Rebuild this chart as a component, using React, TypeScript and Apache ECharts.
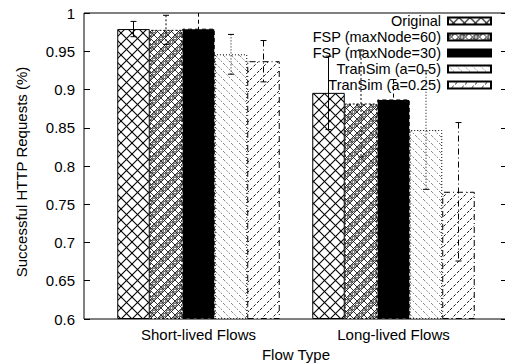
import React, { useEffect, useRef } from "react";
import * as echarts from "echarts";

// Flow categories and the five configurations compared in each
const categories = ["Short-lived Flows", "Long-lived Flows"];
const seriesNames = [
  "Original",
  "FSP (maxNode=60)",
  "FSP (maxNode=30)",
  "TranSim (a=0.5)",
  "TranSim (a=0.25)",
];

// Mean ratio of successful requests, per configuration
const shortValues = [0.979, 0.978, 0.9795, 0.946, 0.937];
const longValues = [0.8956, 0.8817, 0.887, 0.847, 0.7663];

// Half-width of each error bar
const shortErrors = [0.01, 0.019, 0.03, 0.026, 0.027];
const longErrors = [0.048, 0.07, 0.026, 0.0775, 0.0905];

// Value axis range and tick step
const yMin = 0.6;
const yMax = 1;
const yStep = 0.05;

const FONT = "'Liberation Sans', Arial, Helvetica, sans-serif";
const FS = 15;

type Draw = (ctx: CanvasRenderingContext2D, s: number) => void;

function tile(size: number, draw: Draw) {
  const c = document.createElement("canvas");
  c.width = size;
  c.height = size;
  const ctx = c.getContext("2d") as CanvasRenderingContext2D;
  ctx.fillStyle = "#fff";
  ctx.fillRect(0, 0, size, size);
  draw(ctx, size);
  return {
    image: c.toDataURL(),
    imageWidth: size,
    imageHeight: size,
    repeat: "repeat",
  };
}

function crossHatch(ctx: CanvasRenderingContext2D, s: number, period: number) {
  for (let k = -2; k <= s / period + 2; k++) {
    ctx.beginPath();
    ctx.moveTo(k * period - s, -s);
    ctx.lineTo(k * period + s, s);
    ctx.stroke();
    ctx.beginPath();
    ctx.moveTo(k * period + s, -s);
    ctx.lineTo(k * period - s, s);
    ctx.stroke();
  }
}

function buildFills() {
  const original = tile(11, (ctx, s) => {
    ctx.strokeStyle = "#000";
    ctx.lineWidth = 1.1;
    crossHatch(ctx, s, s);
  });
  const fine = tile(14, (ctx, s) => {
    ctx.strokeStyle = "#000";
    ctx.lineWidth = 0.8;
    crossHatch(ctx, s, 7);
    const centers = [
      [3.5, 0],
      [3.5, 14],
      [10.5, 7],
      [0, 3.5],
      [14, 3.5],
      [7, 10.5],
    ];
    for (const [x, y] of centers) {
      ctx.beginPath();
      ctx.arc(x, y, 1.6, 0, Math.PI * 2);
      ctx.fillStyle = "#fff";
      ctx.fill();
      ctx.stroke();
    }
  });
  const back = tile(8, (ctx, s) => {
    ctx.strokeStyle = "#444";
    ctx.lineWidth = 0.9;
    ctx.setLineDash([1, 1.5]);
    for (let k = -1; k <= 1; k++) {
      ctx.beginPath();
      ctx.moveTo(k * s, 0);
      ctx.lineTo(k * s + s, s);
      ctx.stroke();
    }
  });
  const fwd = tile(10, (ctx, s) => {
    ctx.strokeStyle = "#000";
    ctx.lineWidth = 0.9;
    ctx.setLineDash([3, 2]);
    for (let k = -1; k <= 1; k++) {
      ctx.beginPath();
      ctx.moveTo(k * s, s);
      ctx.lineTo(k * s + s, 0);
      ctx.stroke();
    }
  });
  return [original, fine, "#000", back, fwd];
}

// Line style of each configuration (box outline and error bar)
const dashes: (string | number[])[] = [
  "solid",
  [2, 2],
  [4, 3],
  [1, 2],
  [6, 3, 1, 3],
];

export default function App() {
  const ref = useRef<HTMLDivElement>(null);

  useEffect(() => {
    if (!ref.current) return;
    const chart = echarts.init(ref.current, null, { renderer: "svg" });
    const fills = buildFills();

    const bars = seriesNames.map((name, i) => ({
      name,
      type: "bar",
      xAxisIndex: 1,
      yAxisIndex: 2,
      barGap: "0%",
      barCategoryGap: "16.67%",
      clip: true,
      data: [shortValues[i], longValues[i]],
      itemStyle: {
        color: fills[i],
        borderColor: "#000",
        borderWidth: 1,
        borderType: dashes[i],
      },
    }));

    const errorBars = seriesNames.map((name, i) => ({
      name: name + " error",
      type: "custom",
      xAxisIndex: 1,
      yAxisIndex: 2,
      clip: true,
      z: 5,
      data: [
        [0, shortValues[i], shortErrors[i]],
        [1, longValues[i], longErrors[i]],
      ],
      renderItem: (_params: any, api: any) => {
        const cat = api.value(0);
        const v = api.value(1);
        const e = api.value(2);
        const band = api.size([1, 0])[0];
        const cx = api.coord([cat, v])[0] + ((i - 2) * band) / 6;
        const yTop = api.coord([cat, v + e])[1];
        const yBot = api.coord([cat, v - e])[1];
        const cap = 3;
        const dash = dashes[i];
        const stem = {
          stroke: "#000",
          lineWidth: 1,
          lineDash: typeof dash === "string" ? null : dash,
        };
        const capStyle = { stroke: "#000", lineWidth: 1 };
        return {
          type: "group",
          children: [
            {
              type: "line",
              shape: { x1: cx, y1: yTop, x2: cx, y2: yBot },
              style: stem,
            },
            {
              type: "line",
              shape: { x1: cx - cap, y1: yTop, x2: cx + cap, y2: yTop },
              style: capStyle,
            },
            {
              type: "line",
              shape: { x1: cx - cap, y1: yBot, x2: cx + cap, y2: yBot },
              style: capStyle,
            },
          ],
        };
      },
    }));

    const yCommon = {
      type: "value",
      min: yMin,
      max: yMax,
      interval: yStep,
      gridIndex: 0,
      axisLine: { show: false },
      splitLine: { show: false },
    };

    chart.setOption({
      animation: false,
      backgroundColor: "#fff",
      textStyle: { fontFamily: FONT, color: "#000" },
      grid: [
        {
          left: 84,
          right: -1,
          top: 13,
          bottom: 45,
          show: true,
          borderColor: "#000",
          borderWidth: 1,
          backgroundColor: "transparent",
          outerBoundsMode: "none",
          containLabel: false,
        },
        {
          left: 101,
          right: 14,
          top: 13,
          bottom: 45,
          outerBoundsMode: "none",
          containLabel: false,
        },
      ],
      xAxis: [
        { type: "value", gridIndex: 0, show: false, min: 0, max: 1 },
        {
          type: "category",
          gridIndex: 1,
          data: categories,
          axisLine: { show: false },
          axisTick: { show: false },
          axisLabel: { fontSize: FS, color: "#000", margin: 8, fontFamily: FONT },
          name: "Flow Type",
          nameLocation: "middle",
          nameGap: 28,
          nameTextStyle: { fontSize: FS, color: "#000", fontFamily: FONT },
        },
      ],
      yAxis: [
        {
          ...yCommon,
          position: "left",
          axisTick: { show: true, inside: true, length: 6, lineStyle: { color: "#000" } },
          axisLabel: { fontSize: FS, color: "#000", margin: 9, fontFamily: FONT },
          name: "Successful HTTP Requests (%)",
          nameLocation: "middle",
          nameGap: 55,
          nameRotate: 90,
          nameTextStyle: { fontSize: FS, color: "#000", fontFamily: FONT, padding: [0, 12, 0, 0] },
        },
        {
          ...yCommon,
          position: "right",
          axisTick: { show: true, inside: true, length: 5, lineStyle: { color: "#000" } },
          axisLabel: { show: false },
        },
        {
          type: "value",
          gridIndex: 1,
          min: yMin,
          max: yMax,
          startValue: yMin,
          show: false,
          splitLine: { show: false },
        },
      ],
      legend: {
        data: seriesNames,
        orient: "vertical",
        right: 13,
        top: 13,
        align: "right",
        icon: "rect",
        itemWidth: 43,
        itemHeight: 7,
        itemGap: 0,
        padding: 0,
        selectedMode: false,
        textStyle: { fontSize: 14.5, color: "#000", lineHeight: 16, fontFamily: FONT, padding: [0, 2, 0, 0] },
      },
      series: [...bars, ...errorBars],
    });

    return () => chart.dispose();
  }, []);

  return (
    <div
      ref={ref}
      style={{ position: "absolute", left: 0, top: 0, width: 505, height: 364 }}
    />
  );
}
